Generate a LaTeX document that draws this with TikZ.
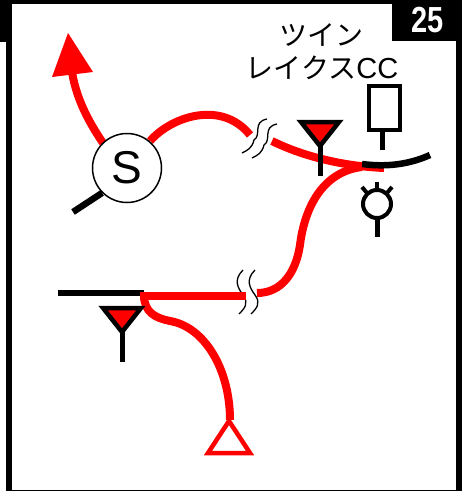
\documentclass[tikz,border=0pt]{standalone}
\usepackage{fontspec}
\setmainfont{Liberation Sans}
\newfontfamily\cjk{Noto Sans CJK JP}
\usepackage{tikz}
\usetikzlibrary{calc}
\tikzset{
	route/.style = {draw = red, line width = 8pt},
	road/.style = {draw = black, line width = 6.5pt},
	stem/.style = {draw = black, line width = 5pt},
	wiggle/.style = {draw = black, line width = 1.3pt},
	label/.style = {font = \cjk\fontsize{28}{30}\selectfont, inner sep = 0},
}
\newcommand{\Antenna}[1]{%
	\begin{scope}[shift = {(#1)}]
		\draw [fill = red, line width = 4.5pt, miter limit = 3] (-19,2) -- (19,2) -- (0,26) -- cycle;
		\draw [stem] (0,22) -- (0,56);
	\end{scope}%
}
\begin{document}
\begin{tikzpicture}[x = 1pt, y = -1pt]
	\useasboundingbox (0,0) rectangle (469,491);
	
	% frame
	\fill (0,0) rectangle (462,4);
	\fill (0,0) rectangle (6,42);
	\fill (6,0) rectangle (12,491);
	\fill (456,0) rectangle (462,491);
	\fill (6,489.5) rectangle (462,491);
	\fill (392,0) rectangle (462,41);
	\node [text = white, font = \bfseries\fontsize{29}{30}\selectfont, inner sep = 0, yscale = 1.25] (number) at (428,20) {25};
	
	% labels
	\node [label] (twin) at (321,35) {ツイン};
	\node [label] (lakes) at (322,68) {レイクス{\rmfamily\fontsize{29}{30}\selectfont CC}};
	
	% upper routes
	\coordinate (meet) at (384,168);
	\draw [route, line cap = butt] (150,141) .. controls (172,116) and (222,100) .. (250,135);
	\draw [route] (272,141) .. controls (300,155) and (340,166) .. (meet);
	\draw [road] (362,164) .. controls (385,167) and (408,165) .. (430,155);
	\draw [route] (362,167) .. controls (320,172) and (304,212) .. (300,245)
		.. controls (296,272) and (282,293) .. (257,293);
	
	% arrow out of the roundabout
	\draw [route] (103,143) .. controls (86,118) and (76,96) .. (72,72);
	\fill [red] (68,33) -- (93,72) -- (52,77) -- cycle;
	
	\node [circle, draw, fill = white, line width = 1.5pt, minimum size = 69pt, inner sep = 0, font = \fontsize{46}{46}\selectfont] (exit) at (127,168) {S};
	\coordinate (tail) at (73,212);
	\draw [road] (exit.225) -- (tail);
	
	% breaks
	\draw [wiggle] (267,119) .. controls (252,122) and (262,135) .. (254,140) .. controls (252,148) and (248,150) .. (242,153);
	\draw [wiggle] (277,124) .. controls (262,127) and (272,140) .. (264,145) .. controls (262,153) and (258,155) .. (252,158);
	\draw [wiggle] (243,270) .. controls (233,280) and (238,288) .. (243,295) .. controls (249,303) and (245,308) .. (239,314);
	\draw [wiggle] (255,270) .. controls (245,280) and (250,288) .. (255,295) .. controls (261,303) and (257,308) .. (251,314);
	
	% symbols at the top right
	\Antenna{320,120}
	\draw [line width = 4pt] (369,86) rectangle (400,130);
	\draw [stem] (382,130) -- (382,150);
	\draw [line width = 4pt] (377,204) circle [radius = 14];
	\draw [stem] (377,218) -- (377,237);
	\draw [line width = 4pt] (377,182) -- (377,190);
	\draw [line width = 4pt] (362,187) -- (367,193);
	\draw [line width = 4pt] (392,187) -- (387,193);
	
	% lower routes
	\draw [road] (58,293) -- (144,293);
	\draw [route] (140,295.5) -- (246,295.5);
	\draw [route] (144,295) .. controls (144,312) and (155,318) .. (170,321)
		.. controls (205,327) and (230,370) .. (230,420);
	\Antenna{122,306}
	\coordinate (peak) at (229,421);
	\draw [draw = red, fill = white, line width = 4.5pt] (peak) -- (250,453) -- (208,453) -- cycle;
\end{tikzpicture}
\end{document}
